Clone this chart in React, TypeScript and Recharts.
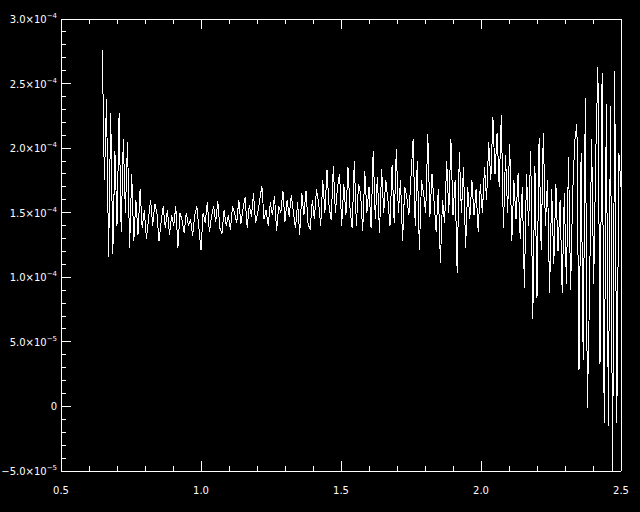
import React from 'react'
import { LineChart, Line, XAxis, YAxis } from 'recharts'

// sampling grid of the spectrum
const X_START = 0.6475
const X_STEP = 0.0075

// flux values, in units of 1e-6
const fluxMicro = [
  276, 175, 238, 116, 227, 118, 198, 140, 227, 135,
  207, 150, 205, 123, 180, 128, 160, 133, 168, 138,
  152, 130, 145, 160, 140, 157, 150, 128, 143, 155,
  138, 152, 133, 148, 140, 155, 123, 150, 144, 134,
  150, 140, 145, 132, 148, 155, 138, 121, 150, 142,
  158, 135, 147, 155, 143, 159, 138, 134, 152, 140,
  148, 137, 155, 150, 142, 160, 141, 153, 162, 138,
  156, 147, 165, 142, 150, 160, 171, 145, 152, 140,
  158, 148, 163, 136, 155, 150, 167, 143, 160, 147,
  164, 150, 138, 158, 133, 165, 148, 167, 141, 137,
  160, 145, 168, 158, 140, 175, 150, 183, 155, 144,
  186, 150, 170, 180, 140, 172, 148, 185, 152, 138,
  190, 140, 172, 165, 136, 182, 150, 170, 138, 198,
  145, 178, 134, 184, 150, 175, 160, 140, 187, 142,
  199, 150, 175, 128, 170, 162, 148, 178, 207, 140,
  190, 121, 175, 165, 150, 211, 147, 180, 158, 135,
  168, 111, 160, 142, 190, 150, 207, 148, 175, 103,
  197, 150, 185, 123, 170, 145, 175, 148, 168, 135,
  172, 150, 185, 160, 205, 175, 224, 180, 212, 170,
  226, 138, 195, 150, 203, 128, 175, 145, 181, 130,
  170, 92, 180, 140, 198, 68, 186, 84, 208, 121,
  212, 140, 175, 88, 168, 110, 172, 120, 160, 88,
  165, 95, 193, 90, 165, 206, 219, 28, 196, 36,
  239, -1, 87, 207, 95, 196, 263, 33, 258, -13,
  234, -15, 233, -55, 260, -13, 196, 170
]

const xTicks = [
  0.5, 0.6, 0.7, 0.8, 0.9, 1.0, 1.1, 1.2, 1.3, 1.4, 1.5,
  1.6, 1.7, 1.8, 1.9, 2.0, 2.1, 2.2, 2.3, 2.4, 2.5
]

const yTicksMicro = [
  -50, -40, -30, -20, -10, 0, 10, 20, 30, 40, 50, 60,
  70, 80, 90, 100, 110, 120, 130, 140, 150, 160, 170, 180,
  190, 200, 210, 220, 230, 240, 250, 260, 270, 280, 290, 300
]

const data = fluxMicro.map((v, i) => ({ x: X_START + i * X_STEP, y: v * 1e-6 }))
const yTicks = yTicksMicro.map(v => v * 1e-6)

const FONT = '"DejaVu Sans", sans-serif'
const WHITE = '#ffffff'

const isMajorX = (v: number) => Math.abs(v * 2 - Math.round(v * 2)) < 1e-6
const isMajorY = (v: number) => Math.round(v / 1e-5) % 5 === 0

const yLabel = (v: number) => {
  const n = Math.round(v / 1e-5)
  if (n === 0) return { mant: '0', exp: '' }
  const big = Math.abs(n) >= 10
  const mant = (big ? v / 1e-4 : v / 1e-5).toFixed(1).replace('-', '\u2212')
  return { mant: mant + '\u00d710', exp: big ? '\u22124' : '\u22125' }
}

const XTick = (props: any) => {
  const { x, y, payload, side } = props
  const major = isMajorX(payload.value)
  const len = major ? 10 : 5
  const dir = side === 'bottom' ? -1 : 1
  return (
    <g>
      <line x1={x} x2={x} y1={y} y2={y + dir * len} stroke={WHITE} strokeWidth={1} shapeRendering="crispEdges" />
      {side === 'bottom' && major && (
        <text x={x} y={y + 23} fill={WHITE} fontSize={10} fontFamily={FONT} textAnchor="middle">
          {payload.value.toFixed(1)}
        </text>
      )}
    </g>
  )
}

const YTick = (props: any) => {
  const { x, y, payload, side } = props
  const major = isMajorY(payload.value)
  const len = major ? 10 : 5
  const dir = side === 'left' ? 1 : -1
  const lbl = yLabel(payload.value)
  return (
    <g>
      <line x1={x} x2={x + dir * len} y1={y} y2={y} stroke={WHITE} strokeWidth={1} shapeRendering="crispEdges" />
      {side === 'left' && major && (
        <text x={x - 4} y={y + 4} fill={WHITE} fontSize={10} fontFamily={FONT} textAnchor="end">
          {lbl.mant}
          {lbl.exp && (
            <tspan dy={-5} fontSize={7}>
              {lbl.exp}
            </tspan>
          )}
        </text>
      )}
    </g>
  )
}

const axisLine = { stroke: WHITE, shapeRendering: 'crispEdges' }

export default function App() {
  return (
    <div style={{ position: 'absolute', left: 0, top: 0, width: 640, height: 512, background: '#000' }}>
      <LineChart width={640} height={512} data={data} margin={{ top: 0, right: 0, bottom: 0, left: 0 }}>
        <XAxis
          xAxisId="bottom"
          dataKey="x"
          type="number"
          domain={[0.5, 2.5]}
          ticks={xTicks}
          interval={0}
          allowDataOverflow
          height={41}
          tickLine={false}
          tickSize={0}
          tickMargin={0}
          axisLine={axisLine}
          tick={<XTick side="bottom" />}
        />
        <XAxis
          xAxisId="top"
          orientation="top"
          dataKey="x"
          type="number"
          domain={[0.5, 2.5]}
          ticks={xTicks}
          interval={0}
          height={19}
          tickLine={false}
          tickSize={0}
          tickMargin={0}
          axisLine={axisLine}
          tick={<XTick side="top" />}
        />
        <YAxis
          yAxisId="left"
          type="number"
          domain={[-5e-5, 3e-4]}
          ticks={yTicks}
          interval={0}
          allowDataOverflow
          width={61}
          tickLine={false}
          tickSize={0}
          tickMargin={0}
          axisLine={axisLine}
          tick={<YTick side="left" />}
        />
        <YAxis
          yAxisId="right"
          orientation="right"
          type="number"
          domain={[-5e-5, 3e-4]}
          ticks={yTicks}
          interval={0}
          width={19}
          tickLine={false}
          tickSize={0}
          tickMargin={0}
          axisLine={axisLine}
          tick={<YTick side="right" />}
        />
        <Line
          xAxisId="bottom"
          yAxisId="left"
          type="linear"
          dataKey="y"
          stroke={WHITE}
          strokeWidth={1}
          shapeRendering="crispEdges"
          dot={false}
          isAnimationActive={false}
        />
      </LineChart>
    </div>
  )
}
